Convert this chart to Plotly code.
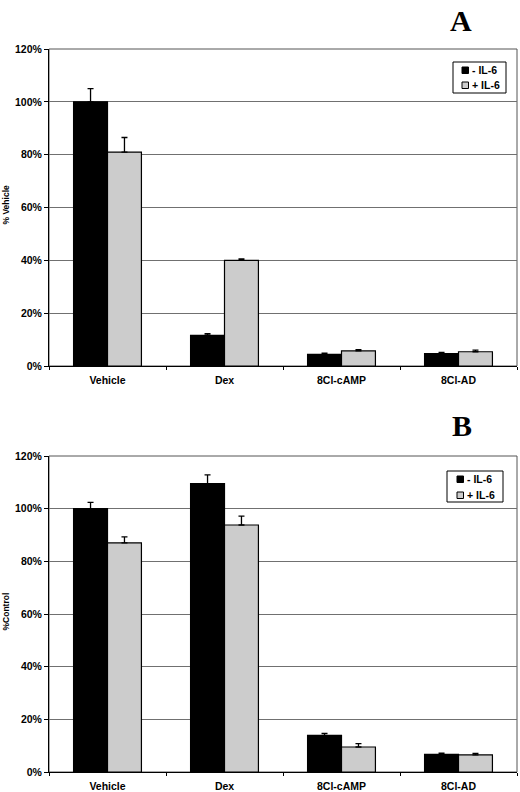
import plotly.graph_objects as go

# data (percent)
categories = ['Vehicle', 'Dex', '8Cl-cAMP', '8Cl-AD']

a_minus = [100, 11.6, 4.4, 4.65]
a_minus_err = [5.0, 0.6, 0.5, 0.5]
a_plus = [81, 40.0, 5.7, 5.4]
a_plus_err = [5.5, 0.5, 0.5, 0.6]

b_minus = [100, 109.5, 13.9, 6.7]
b_minus_err = [2.4, 3.3, 0.8, 0.5]
b_plus = [87, 93.8, 9.5, 6.5]
b_plus_err = [2.3, 3.4, 1.3, 0.6]

series_names = ['- IL-6', '+ IL-6']
yticks = [0, 20, 40, 60, 80, 100, 120]

black = '#000000'
grey = '#cccccc'
font = 'Liberation Sans, Arial, sans-serif'
serif = 'Liberation Serif, Times New Roman, serif'

# plot area in pixels (used only for placing the hand-made legends / labels)
L, R, T, B = 49, 517, 49, 772


def px(x):
    return (x - L) / (R - L)


def py(y):
    return (B - y) / (B - T)


def bar(y, err, color, xa, ya):
    return go.Bar(
        x=categories, y=y, xaxis=xa, yaxis=ya, showlegend=False,
        marker=dict(color=color, line=dict(color=black, width=1.2)),
        error_y=dict(type='data', symmetric=False, array=err,
                     arrayminus=[0] * len(err), color=black,
                     thickness=1.3, width=3),
    )


fig = go.Figure()
fig.add_trace(bar(a_minus, a_minus_err, black, 'x', 'y'))
fig.add_trace(bar(a_plus, a_plus_err, grey, 'x', 'y'))
fig.add_trace(bar(b_minus, b_minus_err, black, 'x2', 'y2'))
fig.add_trace(bar(b_plus, b_plus_err, grey, 'x2', 'y2'))

xstyle = dict(showline=True, linecolor=black, linewidth=1, automargin=False,
              ticks='outside', tickson='boundaries', ticklen=3, tickcolor=black,
              ticklabelstandoff=4,
              tickfont=dict(family=font, size=10.5, color=black),
              tickvals=categories, ticktext=['<b>%s</b>' % c for c in categories],
              showgrid=False)
ystyle = dict(range=[0, 120], showline=True, automargin=False,
              linecolor=black, linewidth=1, ticks='outside', ticklen=4,
              tickcolor=black, showgrid=True, gridcolor='#707070', gridwidth=1,
              tickvals=yticks, ticktext=['<b>%d%%</b>' % v for v in yticks],
              tickfont=dict(family=font, size=10.5, color=black), zeroline=False)

annotations = [
    dict(text='<b>A</b>', x=px(461), y=py(21)),
    dict(text='<b>B</b>', x=px(462), y=py(426)),
]
for a in annotations:
    a.update(xref='paper', yref='paper', showarrow=False,
             xanchor='center', yanchor='middle',
             font=dict(family=serif, size=30, color=black))

# y axis titles
for txt, yc in [('% Vehicle', 205), ('%Control', 612)]:
    annotations.append(dict(text='<b>%s</b>' % txt, x=px(5.5), y=py(yc), xref='paper',
                            yref='paper', showarrow=False, textangle=-90,
                            xanchor='center', yanchor='middle',
                            font=dict(family=font, size=8.5, color=black)))

shapes = []
# border of each plot area
for xa, ya in [('x', 'y'), ('x2', 'y2')]:
    shapes.append(dict(type='rect', xref=xa + ' domain', yref=ya + ' domain',
                       x0=0, x1=1, y0=0, y1=1, layer='below',
                       line=dict(color='#555555', width=1)))

# hand-made legends: (box left, top, right, bottom), square x, square tops
legends = [
    ((453, 62, 506, 93), 462, [67, 82]),
    ((447, 471, 503, 502), 457, [476, 492]),
]
for (x0, y0, x1, y1), sx, tops in legends:
    shapes.append(dict(type='rect', xref='paper', yref='paper',
                       x0=px(x0), x1=px(x1), y0=py(y0), y1=py(y1),
                       fillcolor='white', line=dict(color=black, width=1)))
    for name, color, top in zip(series_names, [black, grey], tops):
        shapes.append(dict(type='rect', xref='paper', yref='paper',
                           x0=px(sx), x1=px(sx + 6.5), y0=py(top), y1=py(top + 6.5),
                           fillcolor=color, line=dict(color=black, width=1)))
        annotations.append(dict(text='<b>%s</b>' % name, x=px(sx + 7.5), y=py(top + 3.3),
                                xref='paper', yref='paper', xanchor='left',
                                yanchor='middle', showarrow=False,
                                font=dict(family=font, size=10.5, color=black)))

fig.update_layout(
    width=520, height=792,
    margin=dict(l=L, r=520 - R, t=T, b=792 - B),
    plot_bgcolor='white', paper_bgcolor='white',
    barmode='group', bargap=0.42, bargroupgap=0,
    font=dict(family=font, color=black),
    xaxis=dict(domain=[0, 1], anchor='y', **xstyle),
    yaxis=dict(domain=[py(366), 1], anchor='x', **ystyle),
    xaxis2=dict(domain=[0, 1], anchor='y2', **xstyle),
    yaxis2=dict(domain=[0, py(456)], anchor='x2', **ystyle),
    annotations=annotations,
    shapes=shapes,
)

# drop the page's default body margin so the figure sits at the window's corner
fig.write_html('out.html', config={'displayModeBar': False},
               post_script="document.body.style.margin='0';")
